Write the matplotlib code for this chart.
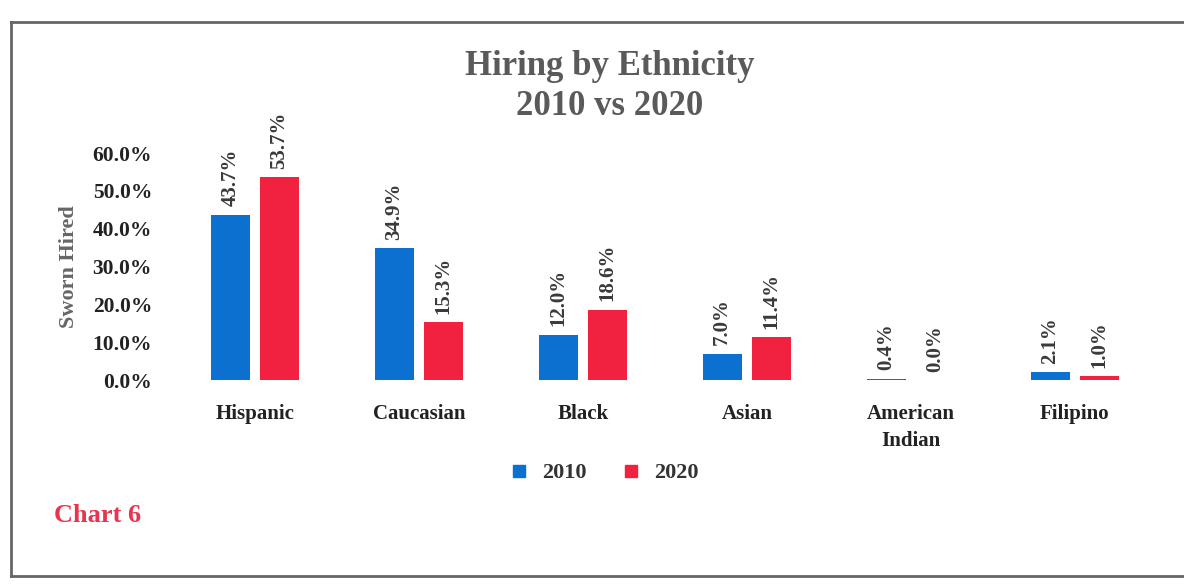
import matplotlib
matplotlib.use("Agg")
import matplotlib.pyplot as plt
from matplotlib.lines import Line2D
import numpy as np

categories = ["Hispanic", "Caucasian", "Black", "Asian", "American\nIndian", "Filipino"]
values_2010 = [43.7, 34.9, 12.0, 7.0, 0.4, 2.1]
values_2020 = [53.7, 15.3, 18.6, 11.4, 0.0, 1.0]
series_names = ["2010", "2020"]
yticks = [0, 10, 20, 30, 40, 50, 60]

blue = "#0b70cf"
red = "#f0223f"
serif = ["Liberation Serif", "DejaVu Serif"]

plt.rcParams["font.family"] = serif
plt.rcParams["font.weight"] = "bold"

fig = plt.figure(figsize=(11.84, 5.84), dpi=100)
ax = fig.add_axes([0.146, 0.349, 0.831, 0.389])

x = np.arange(len(categories))
w = 0.24
off = 0.15
b1 = ax.bar(x - off, values_2010, w, color=blue, label=series_names[0])
b2 = ax.bar(x + off, values_2020, w, color=red, label=series_names[1])

for bars, vals in ((b1, values_2010), (b2, values_2020)):
    for bar, v in zip(bars, vals):
        ax.annotate(f"{v:.1f}%", (bar.get_x() + bar.get_width() / 2, v),
                    xytext=(0, 6), textcoords="offset points",
                    rotation=90, ha="center", va="bottom",
                    fontsize=15, fontweight="bold", color="#3a3a3a")

ax.set_ylim(0, 60)
ax.set_xlim(-0.5, len(categories) - 0.5)
ax.set_yticks(yticks)
ax.set_yticklabels([f"{t:.1f}%" for t in yticks], fontsize=15.5, fontweight="bold", color="#222222")
ax.set_xticks(x)
ax.set_xticklabels(categories, fontsize=15, fontweight="bold", color="#222222", linespacing=1.45)
ax.tick_params(axis="both", length=0)
ax.tick_params(axis="x", pad=17)
ax.tick_params(axis="y", pad=15)
for s in ax.spines.values():
    s.set_visible(False)
ax.set_ylabel("Sworn Hired", fontsize=16, fontweight="bold", color="#666666", labelpad=10)

fig.text(0.515, 0.852, "Hiring by Ethnicity\n2010 vs 2020", ha="center", va="center",
         fontsize=25, fontweight="bold", color="#5a5a5a", linespacing=1.3)

handles = [Line2D([], [], marker="s", linestyle="none", markersize=9, color=blue),
           Line2D([], [], marker="s", linestyle="none", markersize=9, color=red)]
fig.legend(handles, series_names, loc="center", bbox_to_anchor=(0.505, 0.19), ncol=2,
           frameon=False, handletextpad=0.05, columnspacing=1.0,
           prop={"family": serif, "weight": "bold", "size": 16})
for t in fig.legends[0].get_texts():
    t.set_color("#333333")

fig.text(0.046, 0.117, "Chart 6", ha="left", va="center", fontsize=19,
         fontweight="bold", color="#e8344f")

# scanned page frame
frame_color = "#666666"
fig.add_artist(Line2D([0.009, 1.0], [0.962, 0.962], color=frame_color, lw=2, transform=fig.transFigure))
fig.add_artist(Line2D([0.009, 0.009], [0.962, 0.013], color=frame_color, lw=2, transform=fig.transFigure))
fig.add_artist(Line2D([0.009, 1.0], [0.013, 0.013], color=frame_color, lw=2, transform=fig.transFigure))

fig.savefig("out.png", dpi=100, facecolor="white")
